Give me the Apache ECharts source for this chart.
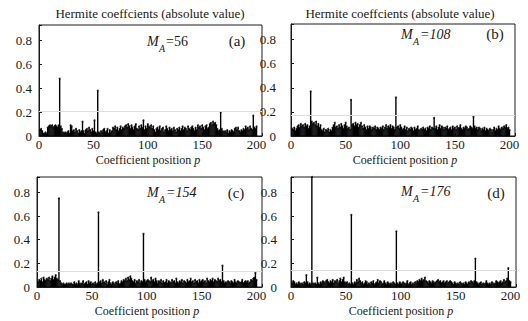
<!DOCTYPE html>
<html><head><meta charset="utf-8">
<script src="https://cdn.jsdelivr.net/npm/echarts@6/dist/echarts.min.js"></script>
<style>html,body{margin:0;padding:0;background:#fff}#c{width:528px;height:321px}</style>
</head><body><div id="c"></div>
<script>
// |Hermite coefficient| at positions p = 1..200, panel (a) M_A=56
const coeffA = [
0.05,0.06,0.04,0.02,0.02,0.03,0.02,0.07,0.08,0.09,
0.08,0.09,0.07,0.08,0.09,0.08,0.07,0.09,0.48,0.08,
0.06,0.03,0.02,0.03,0.02,0.03,0.04,0.02,0.09,0.08,
0.04,0.05,0.03,0.06,0.04,0.02,0.05,0.03,0.04,0.12,
0.04,0.02,0.05,0.06,0.04,0.07,0.05,0.03,0.06,0.04,
0.13,0.03,0.02,0.38,0.03,0.02,0.04,0.03,0.05,0.06,
0.03,0.04,0.06,0.02,0.05,0.03,0.04,0.07,0.06,0.08,
0.05,0.07,0.04,0.06,0.08,0.05,0.07,0.06,0.08,0.09,
0.07,0.10,0.08,0.06,0.09,0.07,0.05,0.08,0.10,0.06,
0.05,0.08,0.06,0.09,0.07,0.13,0.05,0.08,0.06,0.10,
0.08,0.07,0.09,0.06,0.08,0.05,0.03,0.06,0.07,0.05,
0.08,0.04,0.06,0.07,0.03,0.05,0.08,0.06,0.04,0.07,
0.05,0.06,0.04,0.07,0.05,0.03,0.06,0.05,0.07,0.04,
0.06,0.08,0.05,0.07,0.06,0.04,0.08,0.06,0.05,0.07,
0.08,0.06,0.04,0.07,0.05,0.09,0.07,0.08,0.06,0.09,
0.07,0.05,0.08,0.09,0.06,0.07,0.10,0.11,0.09,0.12,
0.10,0.11,0.09,0.06,0.04,0.05,0.20,0.06,0.04,0.03,
0.04,0.03,0.05,0.02,0.04,0.03,0.05,0.04,0.03,0.06,
0.07,0.05,0.07,0.04,0.03,0.05,0.04,0.06,0.05,0.08,
0.06,0.07,0.05,0.08,0.06,0.05,0.17,0.07,0.06,0.08];
// panel (b) M_A=108
const coeffB = [
0.06,0.05,0.07,0.04,0.06,0.08,0.09,0.07,0.10,0.08,
0.09,0.07,0.10,0.08,0.09,0.06,0.08,0.37,0.12,0.10,
0.11,0.09,0.12,0.08,0.10,0.07,0.09,0.05,0.04,0.06,
0.03,0.05,0.04,0.06,0.03,0.05,0.04,0.07,0.09,0.11,
0.07,0.08,0.06,0.09,0.07,0.10,0.08,0.06,0.09,0.11,
0.08,0.06,0.07,0.05,0.30,0.09,0.10,0.08,0.11,0.09,
0.10,0.07,0.09,0.11,0.08,0.06,0.09,0.07,0.05,0.08,
0.06,0.08,0.07,0.05,0.07,0.06,0.08,0.05,0.07,0.06,
0.05,0.07,0.06,0.08,0.05,0.07,0.09,0.06,0.08,0.07,
0.09,0.06,0.08,0.07,0.05,0.32,0.07,0.08,0.06,0.09,
0.07,0.05,0.06,0.08,0.05,0.07,0.04,0.06,0.05,0.07,
0.06,0.04,0.07,0.05,0.06,0.08,0.05,0.04,0.06,0.05,
0.07,0.05,0.06,0.04,0.07,0.06,0.08,0.05,0.07,0.06,
0.15,0.06,0.08,0.05,0.07,0.09,0.06,0.08,0.07,0.05,
0.07,0.06,0.08,0.05,0.06,0.07,0.05,0.08,0.06,0.07,
0.05,0.08,0.06,0.07,0.09,0.06,0.05,0.07,0.06,0.08,
0.07,0.05,0.06,0.08,0.07,0.06,0.16,0.08,0.06,0.07,
0.05,0.07,0.06,0.04,0.06,0.05,0.07,0.04,0.06,0.05,
0.04,0.06,0.05,0.03,0.05,0.07,0.04,0.06,0.05,0.08,
0.06,0.05,0.07,0.06,0.08,0.07,0.09,0.06,0.07,0.05];
// panel (c) M_A=154
const coeffC = [
0.04,0.06,0.05,0.07,0.04,0.08,0.06,0.05,0.07,0.06,
0.08,0.05,0.07,0.09,0.06,0.08,0.10,0.07,0.06,0.75,
0.05,0.03,0.02,0.03,0.02,0.02,0.03,0.02,0.03,0.02,
0.03,0.02,0.02,0.04,0.02,0.03,0.02,0.05,0.03,0.02,
0.03,0.05,0.02,0.03,0.04,0.02,0.05,0.03,0.04,0.02,
0.03,0.02,0.04,0.02,0.03,0.63,0.04,0.05,0.03,0.06,
0.04,0.03,0.05,0.02,0.04,0.06,0.03,0.02,0.04,0.03,
0.02,0.04,0.03,0.05,0.02,0.03,0.05,0.04,0.06,0.05,
0.07,0.05,0.08,0.06,0.09,0.07,0.05,0.04,0.06,0.03,
0.05,0.04,0.06,0.03,0.05,0.04,0.45,0.06,0.04,0.05,
0.06,0.05,0.04,0.08,0.05,0.06,0.04,0.07,0.05,0.03,
0.05,0.04,0.06,0.03,0.05,0.03,0.04,0.06,0.03,0.05,
0.04,0.03,0.06,0.04,0.05,0.03,0.07,0.04,0.03,0.05,
0.04,0.06,0.03,0.05,0.04,0.03,0.06,0.04,0.05,0.07,
0.04,0.05,0.03,0.06,0.04,0.05,0.03,0.06,0.04,0.05,
0.06,0.04,0.05,0.03,0.07,0.05,0.04,0.06,0.05,0.07,
0.04,0.06,0.05,0.04,0.07,0.05,0.06,0.04,0.18,0.05,
0.03,0.04,0.03,0.05,0.04,0.03,0.05,0.04,0.03,0.06,
0.04,0.03,0.05,0.04,0.03,0.04,0.06,0.03,0.04,0.05,
0.04,0.05,0.03,0.04,0.06,0.05,0.07,0.08,0.12,0.06];
// panel (d) M_A=176
const coeffD = [
0.03,0.05,0.04,0.02,0.03,0.02,0.04,0.03,0.02,0.03,
0.02,0.04,0.03,0.10,0.04,0.02,0.03,0.02,0.93,0.03,
0.02,0.03,0.02,0.08,0.03,0.02,0.04,0.03,0.05,0.04,
0.03,0.05,0.06,0.04,0.03,0.05,0.04,0.06,0.03,0.05,
0.04,0.06,0.03,0.05,0.07,0.04,0.06,0.08,0.04,0.03,
0.04,0.02,0.03,0.02,0.61,0.03,0.02,0.04,0.03,0.06,
0.04,0.07,0.05,0.03,0.04,0.02,0.03,0.05,0.04,0.02,
0.03,0.02,0.04,0.03,0.05,0.02,0.03,0.04,0.06,0.03,
0.05,0.04,0.02,0.03,0.05,0.03,0.02,0.04,0.03,0.02,
0.03,0.02,0.04,0.03,0.02,0.47,0.03,0.02,0.04,0.03,
0.02,0.04,0.03,0.02,0.03,0.05,0.02,0.03,0.04,0.02,
0.03,0.02,0.04,0.03,0.05,0.04,0.06,0.05,0.07,0.05,
0.06,0.08,0.05,0.04,0.03,0.05,0.04,0.03,0.05,0.04,
0.03,0.04,0.05,0.06,0.04,0.05,0.03,0.04,0.05,0.03,
0.04,0.05,0.03,0.04,0.05,0.04,0.03,0.02,0.04,0.03,
0.02,0.03,0.02,0.04,0.03,0.02,0.03,0.02,0.04,0.03,
0.02,0.04,0.03,0.05,0.04,0.03,0.05,0.24,0.04,0.03,
0.02,0.03,0.04,0.02,0.03,0.02,0.03,0.05,0.03,0.02,
0.03,0.02,0.04,0.03,0.02,0.03,0.05,0.04,0.03,0.04,
0.05,0.03,0.04,0.06,0.04,0.05,0.07,0.16,0.05,0.04];

const panelTags = ['(a)', '(b)', '(c)', '(d)'];
const mValues = ['=56', '=108', '=154', '=176'];
const thresholds = [0.21, 0.17, 0.13, 0.14];
const xTickValues = [0, 50, 100, 150, 200];
const yTickValues = [0, 0.2, 0.4, 0.6, 0.8];
const titleText = 'Hermite coeffcients (absolute value)';
const xNameText = 'Coefficient position ';
const xNameVar = 'p';

const allCoeffs = [coeffA, coeffB, coeffC, coeffD];
const SERIF = '"Liberation Serif", "DejaVu Serif", serif';
const INK = '#1a1a1a';

// layout (pixels)
const grids = [
  {left: 39, top: 25, width: 223, height: 111, labelMargin: 7},
  {left: 291, top: 24, width: 224, height: 112, labelMargin: 15},
  {left: 37, top: 177, width: 225, height: 110, labelMargin: 7},
  {left: 291, top: 177, width: 225, height: 110, labelMargin: 14}
];
const annot = [
  {mx: 147, my: 42, tx: 237, ty: 41, nx: 148, ny: 160},
  {mx: 401, my: 35, tx: 495, ty: 34, nx: 405, ny: 160},
  {mx: 147, my: 193, tx: 236, ty: 193, nx: 147, ny: 311},
  {mx: 401, my: 192, tx: 496, ty: 193, nx: 401, ny: 311}
];

const chart = echarts.init(document.getElementById('c'), null, {renderer: 'svg'});

const option = {
  backgroundColor: '#fff',
  animation: false,
  grid: grids.map(g => ({left: g.left, top: g.top, width: g.width, height: g.height,
    show: true, borderColor: INK, borderWidth: 1, backgroundColor: 'transparent'})),
  xAxis: grids.map((g, i) => ({
    type: 'value', gridIndex: i, min: 0, max: 205, interval: 50,
    axisLine: {show: true, onZero: false, lineStyle: {color: INK, width: 1}},
    axisTick: {show: true, inside: true, length: 3, lineStyle: {color: INK}},
    splitLine: {show: false},
    axisLabel: {
      margin: 2, color: INK, fontFamily: SERIF, fontSize: 13,
      formatter: v => xTickValues.includes(v) ? String(v) : ''
    }
  })),
  yAxis: grids.map((g, i) => ({
    type: 'value', gridIndex: i, min: 0, max: 0.93, interval: 0.2,
    axisLine: {show: true, lineStyle: {color: INK, width: 1}},
    axisTick: {show: true, inside: true, length: 3, lineStyle: {color: INK}},
    splitLine: {show: false},
    axisLabel: {
      margin: g.labelMargin, color: INK, fontFamily: SERIF, fontSize: 13,
      formatter: v => {
        const t = yTickValues.find(y => Math.abs(y - v) < 1e-9);
        return t === undefined ? '' : String(t);
      }
    }
  })),
  series: [],
  graphic: []
};

allCoeffs.forEach((arr, i) => {
  const pts = arr.map((v, k) => [k + 1, v]);
  option.series.push({
    type: 'bar', xAxisIndex: i, yAxisIndex: i, data: pts, barWidth: 1.4,
    itemStyle: {color: '#000'}, clip: true, silent: true,
    markLine: {
      silent: true, symbol: 'none', label: {show: false},
      lineStyle: {color: '#dcdcdc', type: 'solid', width: 1},
      data: [{yAxis: thresholds[i]}]
    }
  });
  option.series.push({
    type: 'scatter', xAxisIndex: i, yAxisIndex: i, data: pts,
    symbol: 'circle', symbolSize: 2, clip: true, silent: true,
    itemStyle: {color: '#000'}
  });
  const a = annot[i];
  option.graphic.push(
    {type: 'text', left: a.mx, top: a.my - 8, silent: true,
     style: {text: 'M', font: 'italic 14px ' + SERIF, fill: INK}},
    {type: 'text', left: a.mx + 12, top: a.my + 1, silent: true,
     style: {text: 'A', font: 'italic 10px ' + SERIF, fill: INK}},
    {type: 'text', left: a.mx + 19, top: a.my - 8, silent: true,
     style: {text: mValues[i], font: (i === 0 ? '' : 'italic ') + '14px ' + SERIF, fill: INK}},
    {type: 'text', silent: true, x: a.tx, y: a.ty,
     style: {text: panelTags[i], font: '15px ' + SERIF, fill: INK, align: 'center', verticalAlign: 'middle'}},
    {type: 'text', silent: true, x: a.nx, y: a.ny,
     style: {
       text: '{n|' + xNameText + '}{v|' + xNameVar + '}',
       align: 'center', verticalAlign: 'middle',
       rich: {
         n: {font: '12px ' + SERIF, fill: INK},
         v: {font: 'italic 12px ' + SERIF, fill: INK}
       }
     }}
  );
});

option.graphic.push(
  {type: 'text', silent: true, x: 150, y: 13,
   style: {text: titleText, font: '13px ' + SERIF, fill: INK, align: 'center', verticalAlign: 'middle'}},
  {type: 'text', silent: true, x: 400, y: 13,
   style: {text: titleText, font: '13px ' + SERIF, fill: INK, align: 'center', verticalAlign: 'middle'}}
);

chart.setOption(option);
</script>
</body></html>
